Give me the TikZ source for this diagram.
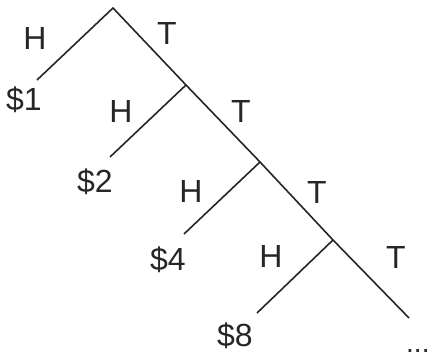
\documentclass[tikz,border=0pt]{standalone}
\usepackage{fontspec}
\setsansfont{Liberation Sans}
\usepackage{tikz}
\usetikzlibrary{positioning}

\begin{document}
\begin{tikzpicture}[x=1pt,y=-1pt,font=\sffamily\fontsize{32}{32}\selectfont]
    \tikzstyle{branch}=[line width=1.6pt, black!85]
    \tikzstyle{lbl}=[inner sep=0pt, anchor=base, text=black!85]
    \useasboundingbox (0,0) rectangle (436,358);

    % tree points
    \coordinate (root) at (113,8);
    \coordinate (h1) at (37,80);
    \coordinate (t1) at (186,85);
    \coordinate (h2) at (110,157);
    \coordinate (t2) at (260,162);
    \coordinate (h3) at (184,234);
    \coordinate (t3) at (333,240);
    \coordinate (h4) at (257,313);
    \coordinate (t4) at (409,318);

    \draw[branch] (h1) -- (root) -- (t1) -- (t2) -- (t3) -- (t4);
    \draw[branch] (t1) -- (h2);
    \draw[branch] (t2) -- (h3);
    \draw[branch] (t3) -- (h4);

    % labels
    \node[lbl] (lblH1) at (35,50) {H};
    \node[lbl] (lblT1) at (167,45) {T};
    \node[lbl] (win1) at (24,111) {\$1};
    \node[lbl] (lblH2) at (121,123) {H};
    \node[lbl] (lblT2) at (241,123) {T};
    \node[lbl] (win2) at (95,193) {\$2};
    \node[lbl] (lblH3) at (191,202) {H};
    \node[lbl] (lblT3) at (317,204) {T};
    \node[lbl] (win4) at (168,270) {\$4};
    \node[lbl] (lblH4) at (271,267) {H};
    \node[lbl] (lblT4) at (396,268) {T};
    \node[lbl] (win8) at (235,346) {\$8};
    \node[lbl, anchor=base west, font=\sffamily\fontsize{28}{28}\selectfont] (more) at (406,352) {...};
\end{tikzpicture}
\end{document}
